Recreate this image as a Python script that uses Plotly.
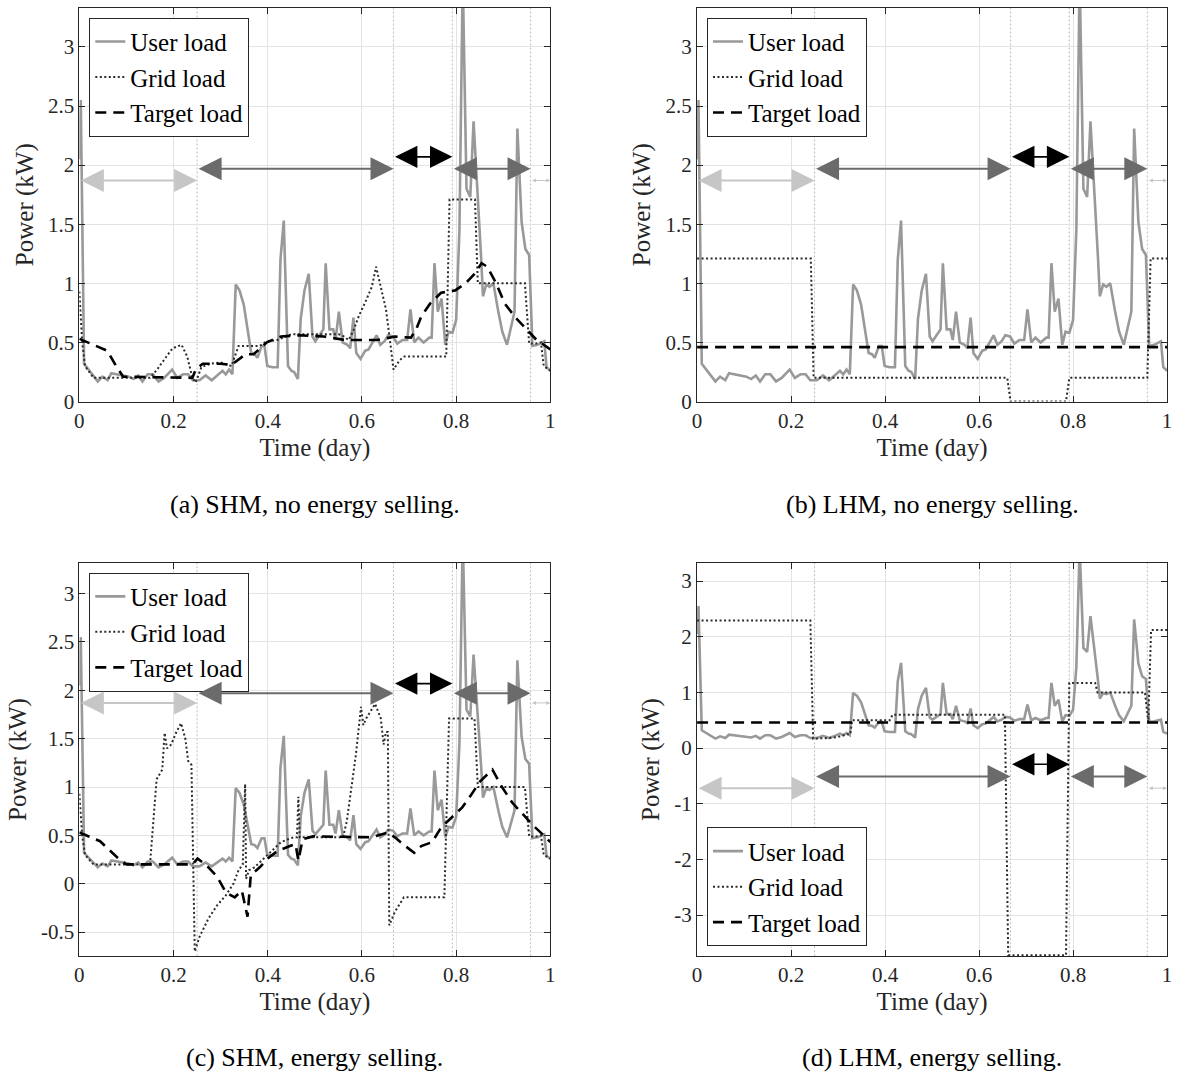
import plotly.graph_objects as go

# ---------------- data ----------------
time_user = [0.000, 0.003, 0.010, 0.020, 0.030, 0.039, 0.049, 0.060, 0.068, 0.080, 0.095, 0.105,
             0.115, 0.125, 0.134, 0.145, 0.156, 0.168, 0.180, 0.197, 0.208, 0.220, 0.231, 0.241,
             0.255, 0.268, 0.281, 0.293, 0.304, 0.311, 0.318, 0.325, 0.332, 0.340, 0.349, 0.365,
             0.372, 0.378, 0.387, 0.393, 0.399, 0.410, 0.421, 0.427, 0.434, 0.443, 0.450, 0.456,
             0.464, 0.470, 0.478, 0.487, 0.495, 0.501, 0.512, 0.518, 0.523, 0.531, 0.539, 0.544,
             0.551, 0.559, 0.569, 0.575, 0.582, 0.588, 0.597, 0.607, 0.614, 0.622, 0.631, 0.639,
             0.648, 0.656, 0.666, 0.675, 0.686, 0.696, 0.703, 0.711, 0.720, 0.731, 0.743, 0.748,
             0.754, 0.761, 0.769, 0.777, 0.784, 0.792, 0.800, 0.807, 0.814, 0.822, 0.830, 0.837,
             0.845, 0.853, 0.857, 0.864, 0.871, 0.879, 0.890, 0.898, 0.908, 0.924, 0.930, 0.939,
             0.947, 0.955, 0.962, 0.973, 0.987, 0.992, 1.000]
user_load = [2.05, 2.55, 0.32, 0.27, 0.22, 0.17, 0.21, 0.18, 0.24, 0.23, 0.22, 0.21,
             0.19, 0.22, 0.17, 0.23, 0.23, 0.17, 0.20, 0.27, 0.20, 0.23, 0.23, 0.18,
             0.18, 0.22, 0.18, 0.22, 0.26, 0.23, 0.27, 0.23, 0.99, 0.94, 0.82, 0.41,
             0.40, 0.37, 0.47, 0.47, 0.30, 0.29, 0.29, 1.20, 1.53, 0.30, 0.26, 0.25,
             0.19, 0.70, 0.94, 1.08, 0.55, 0.51, 0.57, 0.61, 1.17, 0.61, 0.61, 0.52,
             0.76, 0.50, 0.48, 0.45, 0.71, 0.41, 0.36, 0.43, 0.44, 0.50, 0.56, 0.48,
             0.51, 0.56, 0.55, 0.49, 0.52, 0.52, 0.78, 0.50, 0.54, 0.50, 0.54, 0.54,
             1.17, 0.76, 0.87, 0.48, 0.59, 0.58, 0.69, 1.45, 3.60, 1.80, 1.73, 2.37,
             1.84, 1.22, 0.89, 0.99, 0.97, 1.00, 0.75, 0.59, 0.48, 0.76, 2.31, 1.52,
             1.29, 1.24, 0.47, 0.48, 0.51, 0.29, 0.26]

# (a) SHM, no energy selling
time_grid_a = [0.0, 0.006, 0.012, 0.03, 0.15, 0.165, 0.183, 0.198, 0.217, 0.229, 0.24, 0.247,
               0.259, 0.278, 0.30, 0.323, 0.338, 0.383, 0.398, 0.42, 0.45, 0.55, 0.558, 0.572,
               0.583, 0.594, 0.606, 0.621, 0.63, 0.64, 0.651, 0.66, 0.667, 0.68, 0.69, 0.779,
               0.786, 0.84, 0.846, 0.946, 0.955, 0.97, 0.98, 0.986, 1.0]
grid_a = [0.93, 0.50, 0.30, 0.20, 0.20, 0.27, 0.37, 0.45, 0.48, 0.38, 0.20, 0.16,
          0.29, 0.32, 0.33, 0.30, 0.47, 0.47, 0.51, 0.52, 0.57, 0.57, 0.56, 0.52,
          0.61, 0.73, 0.83, 0.97, 1.14, 0.97, 0.78, 0.50, 0.27, 0.35, 0.38, 0.38,
          1.71, 1.71, 1.00, 1.00, 0.49, 0.49, 0.50, 0.30, 0.26]
time_target_a = [0.0, 0.059, 0.078, 0.093, 0.24, 0.247, 0.262, 0.30, 0.323, 0.353, 0.37, 0.398,
                 0.428, 0.466, 0.519, 0.564, 0.594, 0.632, 0.658, 0.67, 0.704, 0.715, 0.726,
                 0.745, 0.768, 0.798, 0.82, 0.839, 0.854, 0.866, 0.885, 0.903, 0.926, 0.949,
                 0.971, 0.986, 1.0]
target_a = [0.53, 0.43, 0.30, 0.21, 0.20, 0.27, 0.32, 0.32, 0.31, 0.40, 0.40, 0.50,
            0.55, 0.56, 0.55, 0.52, 0.52, 0.52, 0.54, 0.55, 0.54, 0.61, 0.72,
            0.83, 0.92, 0.94, 1.00, 1.08, 1.17, 1.14, 1.00, 0.83, 0.71, 0.61,
            0.52, 0.48, 0.44]

# (b) LHM, no energy selling
time_grid_b = [0.0, 0.242, 0.248, 0.660, 0.667, 0.785, 0.792, 0.958, 0.965, 1.0]
grid_b = [1.21, 1.21, 0.20, 0.20, 0.00, 0.00, 0.20, 0.20, 1.21, 1.21]
time_target_b = [0.0, 1.0]
target_b = [0.46, 0.46]

# (c) SHM, energy selling
time_grid_c = [0.0, 0.006, 0.012, 0.03, 0.15, 0.164, 0.176, 0.181, 0.186, 0.195, 0.206, 0.216,
               0.225, 0.231, 0.238, 0.245, 0.255, 0.274, 0.293, 0.311, 0.327, 0.338, 0.347,
               0.352, 0.354, 0.36, 0.372, 0.391, 0.41, 0.428, 0.443, 0.455, 0.462, 0.465,
               0.468, 0.56, 0.568, 0.579, 0.587, 0.598, 0.603, 0.609, 0.628, 0.64, 0.646,
               0.651, 0.655, 0.658, 0.67, 0.689, 0.775, 0.785, 0.839, 0.846, 0.946, 0.955,
               0.97, 0.98, 0.986, 1.0]
grid_c = [0.93, 0.50, 0.30, 0.20, 0.20, 1.08, 1.18, 1.56, 1.40, 1.44, 1.57, 1.66,
          1.50, 1.27, 1.23, -0.70, -0.55, -0.36, -0.22, -0.12, 0.00, 0.14, 0.20,
          1.03, 0.05, 0.14, 0.17, 0.26, 0.34, 0.43, 0.46, 0.48, 0.48, 0.90,
          0.48, 0.48, 0.65, 1.03, 1.33, 1.83, 1.64, 1.71, 1.86, 1.71, 1.44,
          1.57, 1.57, -0.43, -0.29, -0.14, -0.14, 1.71, 1.71, 1.00, 1.00, 0.49,
          0.49, 0.50, 0.30, 0.26]
time_target_c = [0.0, 0.044, 0.081, 0.10, 0.24, 0.251, 0.27, 0.293, 0.311, 0.33, 0.345, 0.357,
                 0.364, 0.383, 0.402, 0.421, 0.447, 0.459, 0.465, 0.474, 0.496, 0.62, 0.655,
                 0.67, 0.692, 0.711, 0.726, 0.749, 0.768, 0.79, 0.813, 0.832, 0.851, 0.877,
                 0.896, 0.919, 0.941, 0.964, 0.986, 1.0]
target_c = [0.53, 0.44, 0.27, 0.20, 0.20, 0.26, 0.19, 0.07, -0.09, -0.14, -0.07, -0.34,
            0.09, 0.17, 0.27, 0.34, 0.39, 0.41, 0.24, 0.46, 0.49, 0.48, 0.53,
            0.48, 0.39, 0.32, 0.39, 0.43, 0.58, 0.68, 0.79, 0.92, 1.06, 1.18,
            1.01, 0.84, 0.72, 0.60, 0.50, 0.43]

# (d) LHM, energy selling
time_grid_d = [0.0, 0.241, 0.247, 0.26, 0.28, 0.30, 0.32, 0.326, 0.33, 0.41, 0.416, 0.655,
               0.662, 0.785, 0.792, 0.847, 0.852, 0.953, 0.96, 0.966, 1.0]
grid_d = [2.29, 2.29, 0.17, 0.17, 0.18, 0.20, 0.25, 0.25, 0.50, 0.50, 0.60, 0.60,
          -3.72, -3.72, 1.17, 1.17, 1.00, 1.00, 0.47, 2.12, 2.12]
time_target_d = [0.0, 1.0]
target_d = [0.46, 0.46]

# pricing periods (day fractions) and arrow levels
period_bounds = [0.0, 0.25, 0.667, 0.792, 0.958, 1.0]
arrow_colors = ["#c6c6c6", "#6b6b6b", "#000000", "#6b6b6b", "#c6c6c6"]
arrow_levels_top = [1.87, 1.97, 2.07, 1.97, 1.87]
arrow_levels_d = [-0.72, -0.51, -0.29, -0.51, -0.72]

x_ticks = [0, 0.2, 0.4, 0.6, 0.8, 1]
x_ticktext = ["0", "0.2", "0.4", "0.6", "0.8", "1"]
y_ticks_ab = [0, 0.5, 1, 1.5, 2, 2.5, 3]
y_ticktext_ab = ["0", "0.5", "1", "1.5", "2", "2.5", "3"]
y_ticks_c = [-0.5, 0, 0.5, 1, 1.5, 2, 2.5, 3]
y_ticktext_c = ["-0.5", "0", "0.5", "1", "1.5", "2", "2.5", "3"]
y_ticks_d = [-3, -2, -1, 0, 1, 2, 3]
y_ticktext_d = ["-3", "-2", "-1", "0", "1", "2", "3"]

captions = ["(a) SHM, no energy selling.", "(b) LHM, no energy selling.",
            "(c) SHM, energy selling.", "(d) LHM, energy selling."]

# ---------------- figure ----------------
W, H = 1178, 1083
FONT = "Liberation Serif"
fig = go.Figure()

px_x = lambda p: min(1.0, max(0.0, p / W))
px_y = lambda p: min(1.0, max(0.0, 1 - p / H))

panels = [
    dict(grid=(time_grid_a, grid_a), target=(time_target_a, target_a), yr=[0, 3.33],
         yt=(y_ticks_ab, y_ticktext_ab), xd=[75, 550], yd=[406, 8], lev=arrow_levels_top,
         leg=(85, 18, "top")),
    dict(grid=(time_grid_b, grid_b), target=(time_target_b, target_b), yr=[0, 3.33],
         yt=(y_ticks_ab, y_ticktext_ab), xd=[698, 1172], yd=[406, 8], lev=arrow_levels_top,
         leg=(708, 18, "top")),
    dict(grid=(time_grid_c, grid_c), target=(time_target_c, target_c), yr=[-0.75, 3.32],
         yt=(y_ticks_c, y_ticktext_c), xd=[75, 550], yd=[967, 569], lev=arrow_levels_top,
         leg=(85, 579, "top")),
    dict(grid=(time_grid_d, grid_d), target=(time_target_d, target_d), yr=[-3.74, 3.33],
         yt=(y_ticks_d, y_ticktext_d), xd=[698, 1172], yd=[967, 569], lev=arrow_levels_d,
         leg=(708, 957, "bottom")),
]

layout_updates = {}
for i, p in enumerate(panels):
    n = i + 1
    xs = "" if n == 1 else str(n)
    xa, ya = "x" + xs, "y" + xs
    lg = "legend" if n == 1 else "legend" + str(n)

    fig.add_trace(go.Scatter(x=time_user, y=user_load, mode="lines", name="User load",
                             line=dict(color="#999999", width=2.6), xaxis=xa, yaxis=ya,
                             legend=lg))
    fig.add_trace(go.Scatter(x=p["grid"][0], y=p["grid"][1], mode="lines", name="Grid load",
                             line=dict(color="#2a2a2a", width=2, dash="2px,2.5px"),
                             xaxis=xa, yaxis=ya, legend=lg))
    fig.add_trace(go.Scatter(x=p["target"][0], y=p["target"][1], mode="lines",
                             name="Target load",
                             line=dict(color="#000000", width=2.6, dash="11px,7px"),
                             xaxis=xa, yaxis=ya, legend=lg))

    axcommon = dict(showline=True, mirror="ticks", linecolor="#262626", linewidth=1,
                    ticks="inside", ticklen=6, tickcolor="#262626", showgrid=True,
                    gridcolor="#e3e3e3", gridwidth=1, zeroline=False,
                    tickfont=dict(family=FONT, size=21, color="#262626"))
    layout_updates["xaxis" + xs] = dict(
        domain=[px_x(p["xd"][0]), px_x(p["xd"][1])], anchor=ya, range=[0, 1],
        tickvals=x_ticks, ticktext=x_ticktext,
        title=dict(text="Time (day)", font=dict(family=FONT, size=25, color="#262626"),
                   standoff=6), **axcommon)
    layout_updates["yaxis" + xs] = dict(
        domain=[px_y(p["yd"][0]), px_y(p["yd"][1])], anchor=xa, range=p["yr"],
        tickvals=p["yt"][0], ticktext=p["yt"][1],
        title=dict(text="Power (kW)", font=dict(family=FONT, size=25, color="#262626"),
                   standoff=7), **axcommon)

    layout_updates[lg] = dict(x=px_x(p["leg"][0]), y=px_y(p["leg"][1]), xanchor="left",
                              yanchor=p["leg"][2], bgcolor="white", bordercolor="#262626",
                              borderwidth=1, font=dict(family=FONT, size=25, color="#000"),
                              itemwidth=30, tracegroupgap=0)

    # period boundaries
    for b in period_bounds[1:-1]:
        fig.add_shape(type="line", xref=xa, yref=ya + " domain", x0=b, x1=b, y0=0, y1=1,
                      line=dict(color="#bdbdbd", width=1, dash="2px,2px"), layer="below")

    # period arrows
    for k in range(len(period_bounds) - 1):
        x0, x1 = period_bounds[k], period_bounds[k + 1]
        col = arrow_colors[k]
        small = (x1 - x0) < 0.05
        black = col == "#000000"
        fig.add_annotation(x=x1, y=p["lev"][k], ax=x0, ay=p["lev"][k], xref=xa, yref=ya,
                           axref=xa, ayref=ya, text="", showarrow=True,
                           arrowside="end+start", arrowhead=2,
                           arrowsize=0.8 if small else (2.8 if black else 2.3),
                           arrowwidth=1 if small else (1.6 if black else 2),
                           arrowcolor=col, standoff=0, startstandoff=0)

    # caption
    cx = (p["xd"][0] + p["xd"][1]) / 2
    cy = 510 if n <= 2 else 1069
    fig.add_annotation(x=px_x(cx), y=px_y(cy), xref="paper", yref="paper",
                       text=captions[i], showarrow=False, xanchor="center", yanchor="middle",
                       font=dict(family=FONT, size=26, color="#000"))

fig.update_layout(width=W, height=H, margin=dict(l=0, r=0, t=0, b=0),
                  paper_bgcolor="white", plot_bgcolor="white", showlegend=True,
                  **layout_updates)

fig.write_html("out.html", config={"displayModeBar": False},
               post_script="document.body.style.margin='0px';"
                           "document.body.style.overflow='hidden';")
